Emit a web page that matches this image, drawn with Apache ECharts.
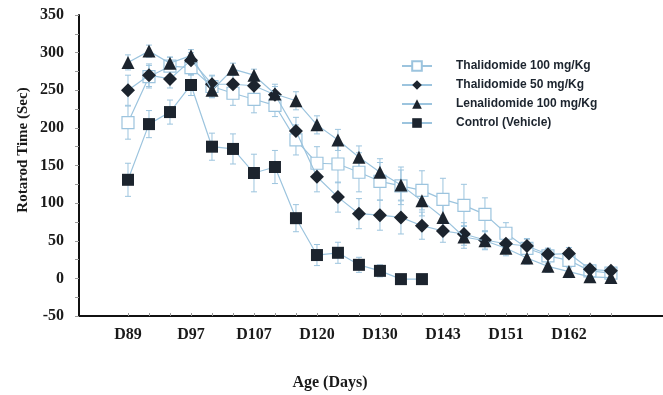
<!DOCTYPE html>
<html>
<head>
<meta charset="utf-8">
<script src="https://cdn.jsdelivr.net/npm/echarts@6/dist/echarts.min.js"></script>
<style>
  html, body { margin: 0; padding: 0; background: #fff; }
  #main { width: 663px; height: 395px; }
</style>
</head>
<body>
<div id="main"></div>
<script>
// x positions are day indexes 0..23, a label every 3rd point
var dayLabels = ['D89', 'D97', 'D107', 'D120', 'D130', 'D143', 'D151', 'D162'];
var labelIdx = [0, 3, 6, 9, 12, 15, 18, 21];
var tickIdx = [0,1,2,3,4,5,6,7,8,9,10,11,12,13,14,15,16,17,18,19,20,21,22,23];

// Rotarod time (sec), mean values
var thal100 = [207, 268, 282, 280, 255, 246, 238, 230, 184, 153, 152, 141, 129, 123, 117, 105, 97, 85, 60, 40, 30, 24, 10, 7];
var thal50  = [250, 270, 265, 290, 258, 258, 256, 244, 196, 135, 108, 86, 84, 81, 70, 63, 59, 51, 46, 43, 32, 33, 12, 10];
var lena100 = [287, 302, 286, 296, 250, 278, 270, 245, 236, 204, 184, 161, 141, 124, 103, 81, 55, 50, 40, 27, 16, 9, 2, 1];
var control = [131, 205, 221, 257, 175, 172, 140, 148, 80, 31, 34, 18, 10, -1, -1];

// error bars (sem)
var thal100Err = [22, 15, 12, 10, 14, 16, 18, 15, 20, 22, 25, 26, 25, 25, 26, 28, 28, 22, 14, 12, 10, 10, 6, 5];
var thal50Err  = [20, 15, 12, 10, 12, 12, 12, 14, 18, 20, 20, 20, 20, 22, 18, 15, 15, 12, 10, 10, 8, 8, 5, 5];
var lena100Err = [10, 8, 8, 8, 10, 8, 8, 10, 12, 12, 14, 15, 18, 20, 20, 20, 15, 12, 10, 8, 8, 8, 5, 5];
var controlErr = [22, 18, 16, 14, 18, 20, 25, 22, 18, 14, 14, 10, 8, 5, 5];

var yLabels = [-50, 0, 50, 100, 150, 200, 250, 300, 350];

var lineColor = '#9cc4de';
var markColor = '#1c242e';

var pts = function(arr){
    return arr.map(function(v, i){ return [i, v]; });
};
var errPts = function(arr, err){
    return arr.map(function(v, i){ return [i, v, err[i]]; });
};

var errorBars = function(params, api){
    var x = api.value(0), v = api.value(1), e = api.value(2);
    var hi = api.coord([x, v + e]);
    var lo = api.coord([x, v - e]);
    var st = { stroke: lineColor, lineWidth: 1 };
    return {
        type: 'group',
        children: [
            { type: 'line', shape: { x1: hi[0], y1: hi[1], x2: lo[0], y2: lo[1] }, style: st },
            { type: 'line', shape: { x1: hi[0] - 3, y1: hi[1], x2: hi[0] + 3, y2: hi[1] }, style: st },
            { type: 'line', shape: { x1: lo[0] - 3, y1: lo[1], x2: lo[0] + 3, y2: lo[1] }, style: st }
        ]
    };
};

var lineSeries = function(name, arr, symbol, size, hollow, z){
    return {
        name: name,
        type: 'line',
        data: pts(arr),
        symbol: symbol,
        symbolSize: size,
        showAllSymbol: true,
        z: z,
        lineStyle: { color: lineColor, width: 1.2 },
        itemStyle: hollow
            ? { color: '#fff', borderColor: lineColor, borderWidth: 1.2 }
            : { color: markColor, borderWidth: 0 },
        animation: false
    };
};

var errSeries = function(arr, err){
    return {
        type: 'custom',
        renderItem: errorBars,
        data: errPts(arr, err),
        z: 1,
        silent: true,
        animation: false
    };
};

var chart = echarts.init(document.getElementById('main'), null, { renderer: 'canvas' });

var option = {
    backgroundColor: '#fff',
    animation: false,
    grid: { left: 79, top: 15, right: 0, bottom: 79 },
    legend: {
        orient: 'vertical',
        left: 396,
        top: 55,
        itemWidth: 30,
        itemHeight: 12,
        itemGap: 7,
        data: ['Thalidomide 100 mg/Kg', 'Thalidomide 50 mg/Kg', 'Lenalidomide 100 mg/Kg', 'Control (Vehicle)'],
        textStyle: {
            fontFamily: 'Liberation Sans',
            fontWeight: 'bold',
            fontSize: 12,
            color: '#1c242e',
            padding: [0, 0, 0, 19]
        }
    },
    xAxis: {
        type: 'value',
        min: -2.333,
        max: 25.48,
        axisLine: { show: true, onZero: false, lineStyle: { color: '#111', width: 2 } },
        axisTick: {
            show: true,
            inside: true,
            length: 3,
            customValues: tickIdx,
            lineStyle: { color: '#999' }
        },
        axisLabel: {
            customValues: labelIdx,
            formatter: function(v){ return dayLabels[labelIdx.indexOf(v)]; },
            margin: 11,
            fontFamily: 'Liberation Serif',
            fontWeight: 'bold',
            fontSize: 16,
            color: '#1a1a1a'
        },
        splitLine: { show: false }
    },
    yAxis: {
        type: 'value',
        min: -50,
        max: 350,
        interval: 25,
        axisLine: { show: true, onZero: false, lineStyle: { color: '#111', width: 2 } },
        axisTick: { show: true, length: 4, lineStyle: { color: '#999' } },
        axisLabel: {
            customValues: yLabels,
            margin: 15,
            fontFamily: 'Liberation Serif',
            fontWeight: 'bold',
            fontSize: 16,
            color: '#1a1a1a'
        },
        splitLine: { show: false }
    },
    graphic: [
        {
            type: 'text',
            x: 23, y: 150,
            rotation: Math.PI / 2,
            style: {
                text: 'Rotarod Time (Sec)',
                font: 'bold 15px "Liberation Serif"',
                fill: '#1a1a1a',
                align: 'center',
                verticalAlign: 'middle'
            }
        },
        {
            type: 'text',
            x: 330, y: 383,
            style: {
                text: 'Age (Days)',
                font: 'bold 16px "Liberation Serif"',
                fill: '#1a1a1a',
                align: 'center',
                verticalAlign: 'middle'
            }
        }
    ],
    series: [
        errSeries(thal100, thal100Err),
        errSeries(thal50, thal50Err),
        errSeries(lena100, lena100Err),
        errSeries(control, controlErr),
        lineSeries('Thalidomide 100 mg/Kg', thal100, 'rect', 12, true, 2),
        lineSeries('Thalidomide 50 mg/Kg', thal50, 'diamond', 14, false, 3),
        lineSeries('Lenalidomide 100 mg/Kg', lena100, 'triangle', 13, false, 4),
        lineSeries('Control (Vehicle)', control, 'rect', 12, false, 5)
    ]
};

chart.setOption(option);
</script>
</body>
</html>
